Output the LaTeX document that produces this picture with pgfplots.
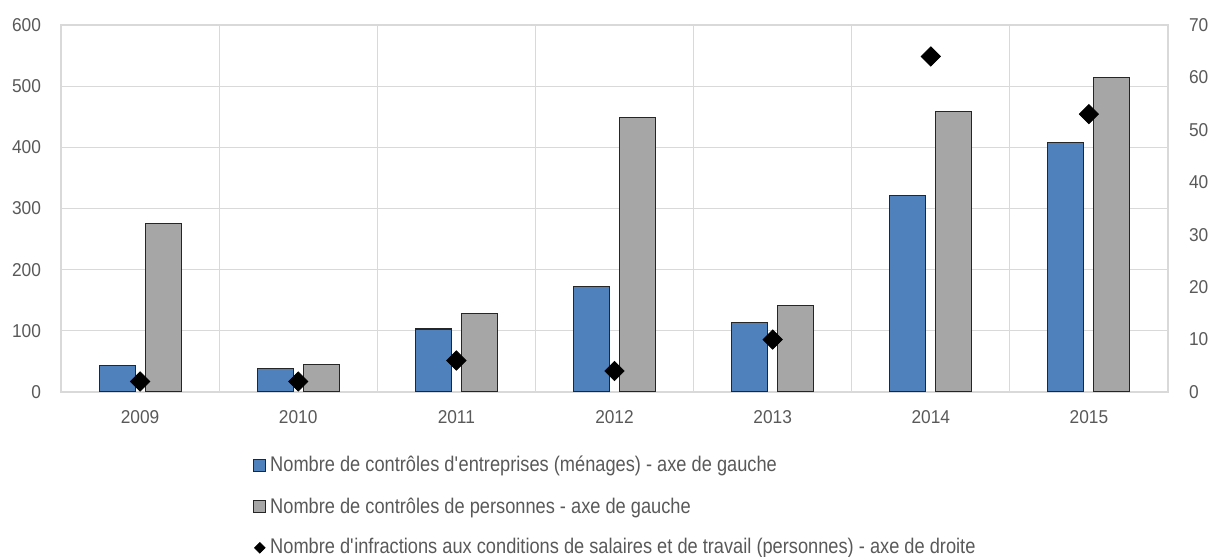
\documentclass[border=0pt]{standalone}
\usepackage{pgfplots}
\pgfplotsset{compat=1.18}
\usepackage{fontspec}
\setmainfont{Liberation Sans}[FakeStretch=0.86]
\newfontfamily\tickfont{Liberation Sans}[FakeStretch=0.93]
\definecolor{barblue}{HTML}{4F81BD}
\definecolor{bargray}{HTML}{A6A6A6}
\definecolor{gridgray}{HTML}{D9D9D9}
\definecolor{txtgray}{HTML}{595959}
\begin{document}
\begin{tikzpicture}
\begin{axis}[
  scale only axis, width=553.5pt, height=183.5pt,
  xmin=-0.5, xmax=6.5, ymin=0, ymax=600,
  ybar=5pt, bar width=18pt,
  xtick={0,1,2,3,4,5,6}, xticklabels={2009,2010,2011,2012,2013,2014,2015},
  minor xtick={-0.5,0.5,1.5,2.5,3.5,4.5,5.5,6.5},
  xminorgrids, ymajorgrids,
  ytick={0,100,200,300,400,500,600},
  axis line style={gridgray, line width=0.6pt},
  grid style={gridgray, line width=0.6pt},
  minor grid style={gridgray, line width=0.6pt},
  major tick length=0pt, minor tick length=0pt,
  tick label style={font=\tickfont\fontsize{9.3}{11}\selectfont, text=txtgray},
  /pgf/number format/assume math mode=true,
  yticklabel style={xshift=-6.5pt},
  xticklabel style={yshift=-5.7pt},
  legend style={at={(0,0)}, anchor=north west, xshift=96pt, yshift=-30pt, draw=none, fill=none,
    font=\fontsize{10.6}{12}\selectfont, text=txtgray, row sep=7.3pt, inner sep=0pt},
  legend cell align=left,
]
\addplot[fill=barblue, draw=black!85, line width=0.55pt,
  legend image code/.code={\draw[fill=barblue, draw=black!85, line width=0.4pt] (0pt,-3pt) rectangle (6pt,3pt);}]
  coordinates {(0,43) (1,38) (2,103) (3,173) (4,113) (5,321) (6,408)};
\addlegendentry{Nombre de contrôles d\textquotesingle entreprises (ménages) - axe de gauche}
\addplot[fill=bargray, draw=black!85, line width=0.55pt,
  legend image code/.code={\draw[fill=bargray, draw=black!85, line width=0.4pt] (0pt,-3pt) rectangle (6pt,3pt);}]
  coordinates {(0,275) (1,45) (2,128) (3,449) (4,141) (5,459) (6,514)};
\addlegendentry{Nombre de contrôles de personnes - axe de gauche}
\addlegendimage{legend image code/.code={\fill[black] (3pt,0pt) +(0,2.6pt) -- +(2.6pt,0) -- +(0,-2.6pt) -- +(-2.6pt,0) -- cycle;}}
\addlegendentry{Nombre d\textquotesingle infractions aux conditions de salaires et de travail (personnes) - axe de droite}
\end{axis}
\begin{axis}[
  scale only axis, width=553.5pt, height=183.5pt,
  xmin=-0.5, xmax=6.5, ymin=0, ymax=70,
  axis x line=none, axis y line*=right,
  ytick={0,10,20,30,40,50,60,70},
  axis line style={draw=none},
  major tick length=0pt,
  tick label style={font=\tickfont\fontsize{9.3}{11}\selectfont, text=txtgray},
  /pgf/number format/assume math mode=true,
  yticklabel style={xshift=7pt},
]
\addplot[only marks, mark=square*, mark size=3.4pt, mark options={rotate=45, fill=black, draw=black}]
  coordinates {(0,2) (1,2) (2,6) (3,4) (4,10) (5,64) (6,53)};
\end{axis}
\pgfresetboundingbox
\path[use as bounding box] ([shift={(-30.5pt,-82.5pt)}]current axis.south west) rectangle ([shift={(21.5pt,12.5pt)}]current axis.north east);
\end{tikzpicture}
\end{document}
